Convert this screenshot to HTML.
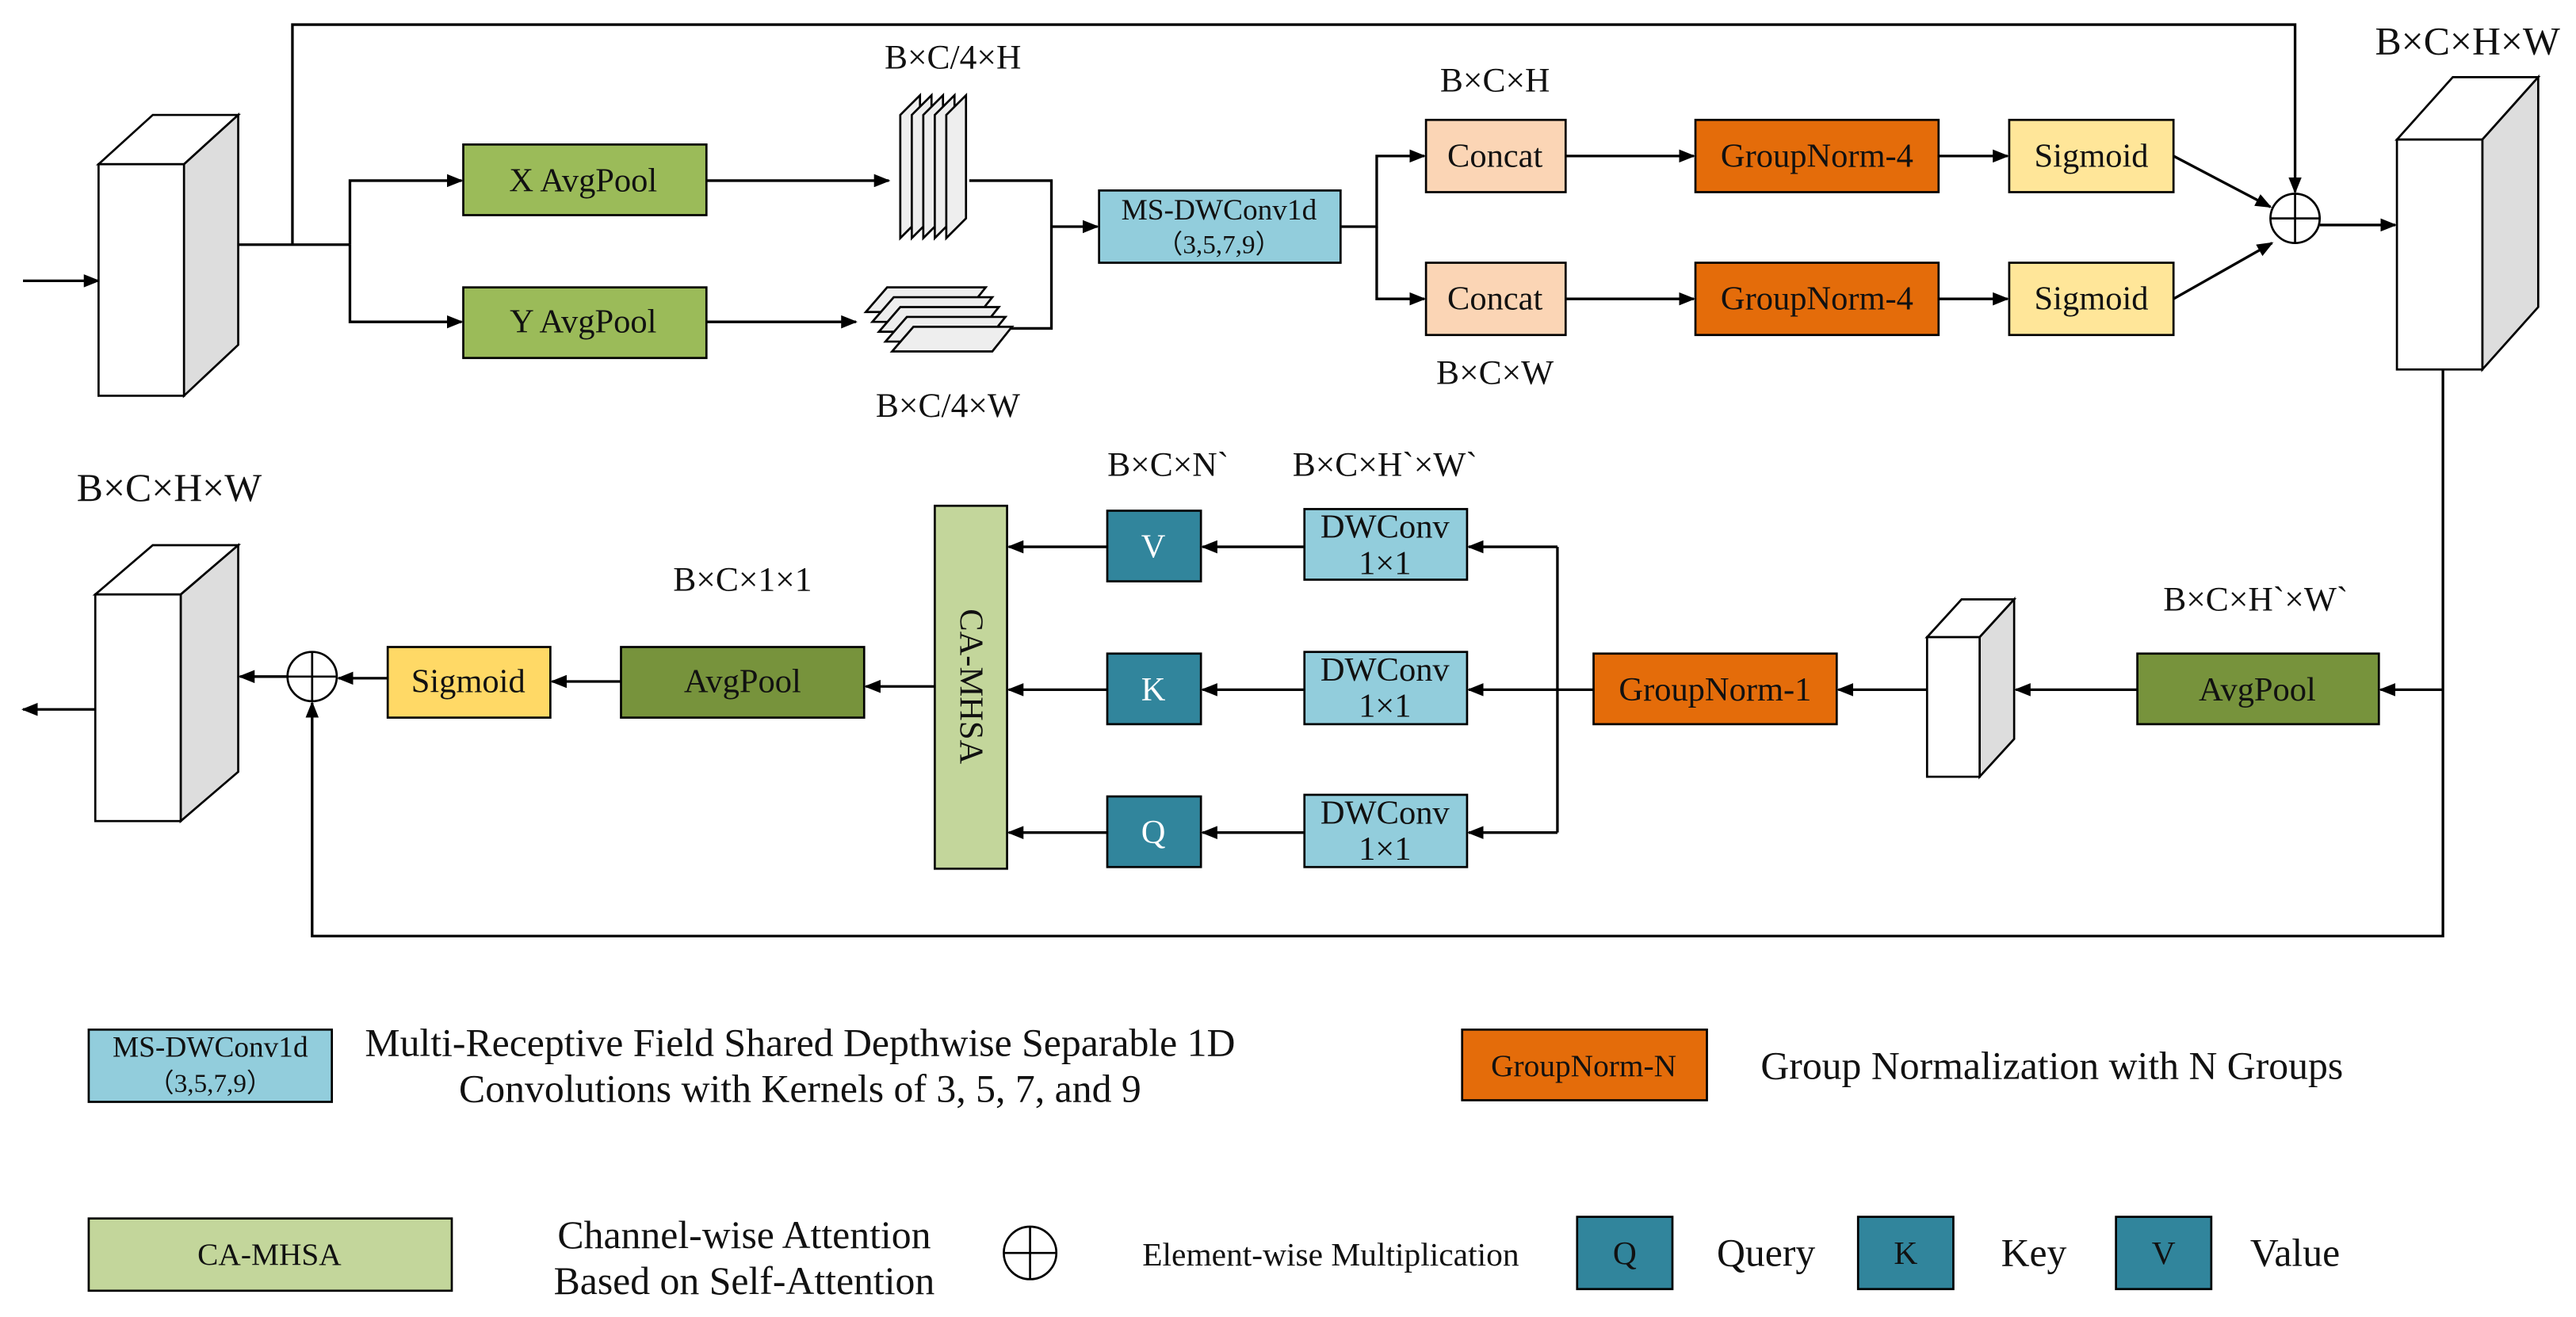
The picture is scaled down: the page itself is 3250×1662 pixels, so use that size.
<!DOCTYPE html>
<html><head><meta charset="utf-8"><style>
html,body{margin:0;padding:0;background:#fff}
svg{display:block}
text{font-family:"Liberation Serif",serif;font-size:20.5px;fill:#111;text-anchor:middle;dominant-baseline:central}
</style></head><body>
<svg width="3250" height="1662" viewBox="0 0 1568 802" preserveAspectRatio="none" xmlns="http://www.w3.org/2000/svg">
<defs><marker id="a" markerWidth="10" markerHeight="8" refX="9" refY="4" orient="auto" markerUnits="userSpaceOnUse"><path d="M0,0 L10,4 L0,8 z" fill="#000"/></marker></defs>
<g stroke="#000" stroke-width="1.6" fill="none">
<line x1="14" y1="171" x2="60" y2="171" marker-end="url(#a)"/>
<polyline points="145,149 213,149"/>
<polyline points="178,149 178,15 1397,15 1397,117" marker-end="url(#a)"/>
<polyline points="213,149 213,110 281,110" marker-end="url(#a)"/>
<polyline points="213,149 213,196 281,196" marker-end="url(#a)"/>
<line x1="430" y1="110" x2="541" y2="110" marker-end="url(#a)"/>
<line x1="430" y1="196" x2="521" y2="196" marker-end="url(#a)"/>
<polyline points="590,110 640,110 640,200 615,200"/>
<line x1="640" y1="138" x2="668" y2="138" marker-end="url(#a)"/>
<polyline points="816,138 838,138 838,95 867,95" marker-end="url(#a)"/>
<polyline points="838,138 838,182 867,182" marker-end="url(#a)"/>
<line x1="953" y1="95" x2="1031" y2="95" marker-end="url(#a)"/>
<line x1="953" y1="182" x2="1031" y2="182" marker-end="url(#a)"/>
<line x1="1180" y1="95" x2="1222" y2="95" marker-end="url(#a)"/>
<line x1="1180" y1="182" x2="1222" y2="182" marker-end="url(#a)"/>
<line x1="1323" y1="95" x2="1382" y2="126" marker-end="url(#a)"/>
<line x1="1323" y1="182" x2="1383" y2="148" marker-end="url(#a)"/>
<line x1="1412" y1="137" x2="1458" y2="137" marker-end="url(#a)"/>
<polyline points="1487,225 1487,570 190,570 190,428" marker-end="url(#a)"/>
<line x1="1487" y1="420" x2="1449" y2="420" marker-end="url(#a)"/>
<line x1="1301" y1="420" x2="1227" y2="420" marker-end="url(#a)"/>
<line x1="1173" y1="420" x2="1119" y2="420" marker-end="url(#a)"/>
<polyline points="970,420 948,420"/>
<polyline points="948,333 948,507"/>
<line x1="948" y1="333" x2="894" y2="333" marker-end="url(#a)"/>
<line x1="948" y1="420" x2="894" y2="420" marker-end="url(#a)"/>
<line x1="948" y1="507" x2="894" y2="507" marker-end="url(#a)"/>
<line x1="794" y1="333" x2="732" y2="333" marker-end="url(#a)"/>
<line x1="794" y1="420" x2="732" y2="420" marker-end="url(#a)"/>
<line x1="794" y1="507" x2="732" y2="507" marker-end="url(#a)"/>
<line x1="674" y1="333" x2="614" y2="333" marker-end="url(#a)"/>
<line x1="674" y1="420" x2="614" y2="420" marker-end="url(#a)"/>
<line x1="674" y1="507" x2="614" y2="507" marker-end="url(#a)"/>
<line x1="569" y1="418" x2="527" y2="418" marker-end="url(#a)"/>
<line x1="378" y1="415" x2="336" y2="415" marker-end="url(#a)"/>
<line x1="236" y1="413" x2="206" y2="413" marker-end="url(#a)"/>
<line x1="175" y1="412" x2="146" y2="412" marker-end="url(#a)"/>
<line x1="58" y1="432" x2="14" y2="432" marker-end="url(#a)"/>
</g>
<g stroke="#000" stroke-width="1.3">
<polygon points="60,100 93,70 145,70 112,100" fill="#fff"/>
<polygon points="112,100 145,70 145,210 112,241" fill="#ddd"/>
<rect x="60" y="100" width="52" height="141" fill="#fff"/>
<polygon points="1459,85 1493,47 1545,47 1511,85" fill="#fff"/>
<polygon points="1511,85 1545,47 1545,187 1511,225" fill="#ddd"/>
<rect x="1459" y="85" width="52" height="140" fill="#fff"/>
<polygon points="58,362 93,332 145,332 110,362" fill="#fff"/>
<polygon points="110,362 145,332 145,470 110,500" fill="#ddd"/>
<rect x="58" y="362" width="52" height="138" fill="#fff"/>
<polygon points="1173,388 1194,365 1226,365 1205,388" fill="#fff"/>
<polygon points="1205,388 1226,365 1226,450 1205,473" fill="#ddd"/>
<rect x="1173" y="388" width="32" height="85" fill="#fff"/>
<polygon points="548,70 560,58 560,133 548,145" fill="#eee"/>
<polygon points="555,70 567,58 567,133 555,145" fill="#eee"/>
<polygon points="562,70 574,58 574,133 562,145" fill="#eee"/>
<polygon points="569,70 581,58 581,133 569,145" fill="#eee"/>
<polygon points="576,70 588,58 588,133 576,145" fill="#eee"/>
<polygon points="527,190 540,175 600,175 588,190" fill="#eee"/>
<polygon points="531,196 544,181 604,181 592,196" fill="#eee"/>
<polygon points="535,202 548,187 608,187 596,202" fill="#eee"/>
<polygon points="539,208 552,193 612,193 600,208" fill="#eee"/>
<polygon points="543,214 556,199 616,199 604,214" fill="#eee"/>
<rect x="282" y="88" width="148" height="43" fill="#9bbb59"/>
<rect x="282" y="175" width="148" height="43" fill="#9bbb59"/>
<rect x="669" y="116" width="147" height="44" fill="#92cddc"/>
<rect x="868" y="73" width="85" height="44" fill="#fbd5b5"/>
<rect x="868" y="160" width="85" height="44" fill="#fbd5b5"/>
<rect x="1032" y="73" width="148" height="44" fill="#e46c0a"/>
<rect x="1032" y="160" width="148" height="44" fill="#e46c0a"/>
<rect x="1223" y="73" width="100" height="44" fill="#ffe699"/>
<rect x="1223" y="160" width="100" height="44" fill="#ffe699"/>
<rect x="1301" y="398" width="147" height="43" fill="#77933c"/>
<rect x="970" y="398" width="148" height="43" fill="#e46c0a"/>
<rect x="794" y="310" width="99" height="43" fill="#92cddc"/>
<rect x="794" y="397" width="99" height="44" fill="#92cddc"/>
<rect x="794" y="484" width="99" height="44" fill="#92cddc"/>
<rect x="674" y="311" width="57" height="43" fill="#31859c"/>
<rect x="674" y="398" width="57" height="43" fill="#31859c"/>
<rect x="674" y="485" width="57" height="43" fill="#31859c"/>
<rect x="569" y="308" width="44" height="221" fill="#c3d69b"/>
<rect x="378" y="394" width="148" height="43" fill="#77933c"/>
<rect x="236" y="394" width="99" height="43" fill="#ffd966"/>
<rect x="54" y="627" width="148" height="44" fill="#92cddc"/>
<rect x="890" y="627" width="149" height="43" fill="#e46c0a"/>
<rect x="54" y="742" width="221" height="44" fill="#c3d69b"/>
<rect x="960" y="741" width="58" height="44" fill="#31859c"/>
<rect x="1131" y="741" width="58" height="44" fill="#31859c"/>
<rect x="1288" y="741" width="58" height="44" fill="#31859c"/>
<circle cx="1397" cy="133" r="15" fill="#fff"/><path d="M1382,133 H1412 M1397,118 V148"/>
<circle cx="190" cy="412" r="15" fill="#fff"/><path d="M175,412 H205 M190,397 V427"/>
<circle cx="627" cy="763" r="16" fill="#fff"/><path d="M611,763 H643 M627,747 V779"/>
</g>
<text x="355" y="110">X AvgPool</text>
<text x="355" y="196">Y AvgPool</text>
<text x="742" y="128" style="font-size:18px">MS-DWConv1d</text>
<text x="742" y="149" style="font-size:16px">（3,5,7,9）</text>
<text x="910" y="95">Concat</text><text x="910" y="182">Concat</text>
<text x="1106" y="95">GroupNorm-4</text><text x="1106" y="182">GroupNorm-4</text>
<text x="1273" y="95">Sigmoid</text><text x="1273" y="182">Sigmoid</text>
<text x="580" y="35" style="font-size:21px">B×C/4×H</text>
<text x="577" y="247" style="font-size:21px">B×C/4×W</text>
<text x="910" y="49" style="font-size:21px">B×C×H</text>
<text x="910" y="227" style="font-size:21px">B×C×W</text>
<text x="1502" y="25" style="font-size:24px">B×C×H×W</text>
<text x="103" y="297" style="font-size:24px">B×C×H×W</text>
<text x="1373" y="365" style="font-size:21px">B×C×H`×W`</text>
<text x="843" y="283" style="font-size:21px">B×C×H`×W`</text>
<text x="711" y="283" style="font-size:21px">B×C×N`</text>
<text x="452" y="353" style="font-size:21px">B×C×1×1</text>
<text x="1374" y="420">AvgPool</text>
<text x="1044" y="420">GroupNorm-1</text>
<text x="843" y="321">DWConv</text><text x="843" y="343">1×1</text>
<text x="843" y="408">DWConv</text><text x="843" y="430">1×1</text>
<text x="843" y="495">DWConv</text><text x="843" y="517">1×1</text>
<text x="702" y="333" style="fill:#fff">V</text>
<text x="702" y="420" style="fill:#fff">K</text>
<text x="702" y="507" style="fill:#fff">Q</text>
<text x="591" y="418" transform="rotate(90 591 418)">CA-MHSA</text>
<text x="452" y="415">AvgPool</text>
<text x="285" y="415">Sigmoid</text>
<text x="128" y="638" style="font-size:18px">MS-DWConv1d</text>
<text x="128" y="660" style="font-size:16px">（3,5,7,9）</text>
<text x="487" y="635" style="font-size:24px">Multi-Receptive Field Shared Depthwise Separable 1D</text>
<text x="487" y="663" style="font-size:24px">Convolutions with Kernels of  3, 5, 7, and 9</text>
<text x="964" y="649" style="font-size:19px">GroupNorm-N</text>
<text x="1249" y="649" style="font-size:24px">Group Normalization with N Groups</text>
<text x="164" y="764" style="font-size:19px">CA-MHSA</text>
<text x="453" y="752" style="font-size:24px">Channel-wise Attention</text>
<text x="453" y="780" style="font-size:24px">Based on Self-Attention</text>
<text x="810" y="764" style="font-size:20px">Element-wise Multiplication</text>
<text x="989" y="763" style="font-size:20px">Q</text><text x="1075" y="763" style="font-size:24px">Query</text>
<text x="1160" y="763" style="font-size:20px">K</text><text x="1238" y="763" style="font-size:24px">Key</text>
<text x="1317" y="763" style="font-size:20px">V</text><text x="1397" y="763" style="font-size:24px">Value</text>
</svg>
</body></html>
